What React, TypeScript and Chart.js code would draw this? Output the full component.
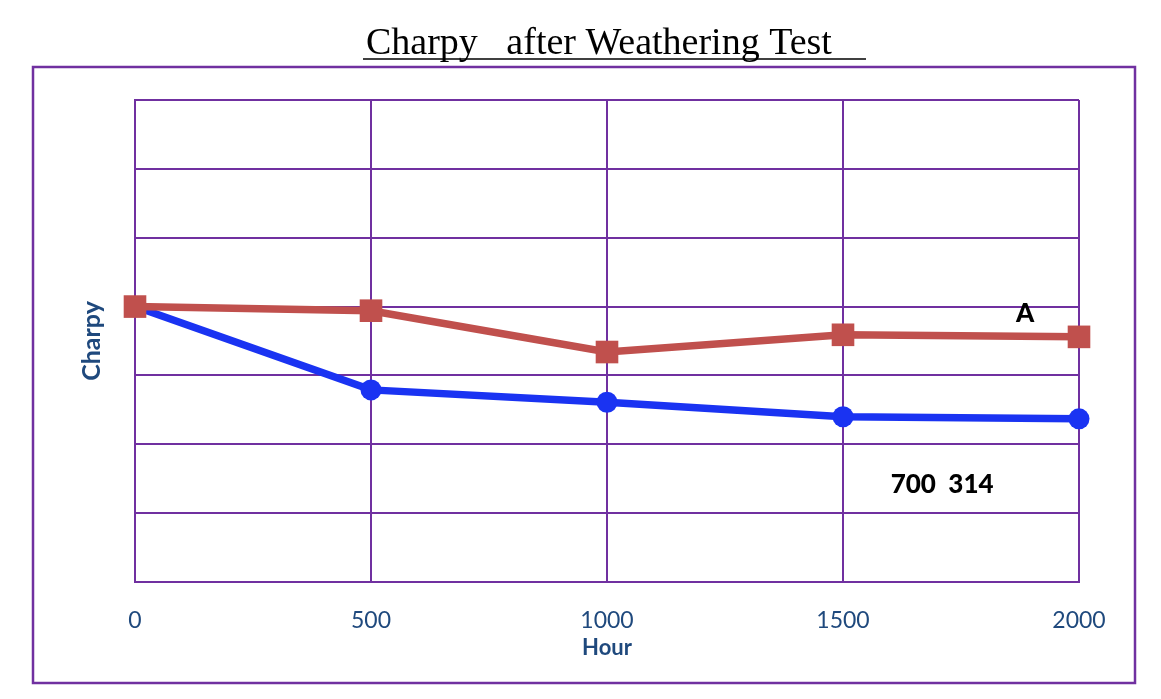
import React, { useEffect, useRef } from "react";
import { Chart, registerables } from "chart.js";

Chart.register(...registerables);

const hours = [0, 500, 1000, 1500, 2000];
const seriesA = [4.0, 3.94, 3.34, 3.59, 3.56];
const seriesB = [4.0, 2.79, 2.61, 2.4, 2.37];
const titleText = "Charpy   after Weathering Test";
const xTitle = "Hour";
const yTitle = "Charpy";
const noteA = { text: "A", x: 1886, y: 3.9 };
const noteB = { text: "700  314", x: 1710, y: 1.42 };

const PURPLE = "#7030A0";
const RED = "#C0504D";
const BLUE = "#1a33f2";
const LABEL = "#1F497D";
const SANS = "Lato, 'Open Sans', sans-serif";

const framePlugin = {
  id: "frame",
  beforeDraw(chart: any) {
    const ctx = chart.ctx;
    ctx.save();
    ctx.fillStyle = "#fff";
    ctx.fillRect(0, 0, chart.width, chart.height);
    ctx.strokeStyle = PURPLE;
    ctx.lineWidth = 2.5;
    ctx.strokeRect(33, 67, 1102, 616);
    ctx.fillStyle = "#000";
    ctx.font = "38px 'Liberation Serif', 'Times New Roman', serif";
    ctx.textBaseline = "alphabetic";
    ctx.textAlign = "left";
    ctx.fillText(titleText, 366, 54);
    ctx.strokeStyle = "#000";
    ctx.lineWidth = 1.5;
    ctx.beginPath();
    ctx.moveTo(363, 59);
    ctx.lineTo(866, 59);
    ctx.stroke();
    ctx.restore();
  },
  afterDatasetsDraw(chart: any) {
    const ctx = chart.ctx;
    const xs = chart.scales.x;
    const ys = chart.scales.y;
    ctx.save();
    ctx.fillStyle = "#000";
    ctx.font = `900 26px ${SANS}`;
    ctx.textAlign = "center";
    ctx.textBaseline = "middle";
    [noteA, noteB].forEach((n) => {
      ctx.fillText(n.text, xs.getPixelForValue(n.x), ys.getPixelForValue(n.y));
    });
    ctx.restore();
  },
};

export default function App() {
  const ref = useRef<HTMLCanvasElement>(null);
  useEffect(() => {
    if (!ref.current) return;
    const chart = new Chart(ref.current, {
      type: "line",
      data: {
        datasets: [
          {
            label: "A",
            data: hours.map((h, i) => ({ x: h, y: seriesA[i] })),
            borderColor: RED,
            backgroundColor: RED,
            borderWidth: 7.5,
            pointStyle: "rect",
            pointRadius: 16,
            pointBorderWidth: 0,
            clip: false,
            order: 1,
          },
          {
            label: "B",
            data: hours.map((h, i) => ({ x: h, y: seriesB[i] })),
            borderColor: BLUE,
            backgroundColor: BLUE,
            borderWidth: 7.5,
            pointStyle: "circle",
            pointRadius: 10.5,
            pointBorderWidth: 0,
            clip: false,
            order: 2,
          },
        ],
      },
      options: {
        animation: false,
        responsive: false,
        layout: { padding: { top: 100, right: 82, left: 0, bottom: 0 } },
        plugins: { legend: { display: false }, tooltip: { enabled: false }, title: { display: false } },
        scales: {
          x: {
            type: "linear",
            min: 0,
            max: 2000,
            afterFit: (s: any) => { s.height = 117; },
            ticks: {
              stepSize: 500,
              color: LABEL,
              font: { family: SANS, size: 23 },
              padding: 25,
              callback: (v: any) => String(v),
            },
            grid: { color: PURPLE, lineWidth: 2, drawTicks: false },
            border: { color: PURPLE, width: 2 },
            title: { display: true, text: xTitle, color: LABEL, font: { family: SANS, size: 22, weight: "bold" }, padding: { bottom: 38 } },
          },
          y: {
            min: 0,
            max: 7,
            afterFit: (s: any) => { s.width = 135; },
            ticks: { stepSize: 1, display: false },
            grid: { color: PURPLE, lineWidth: 2, drawTicks: false },
            border: { color: PURPLE, width: 2 },
            title: { display: true, text: yTitle, color: LABEL, font: { family: SANS, size: 25, weight: "bold" }, padding: { top: 77 } },
          },
        },
      },
      plugins: [framePlugin],
    } as any);
    return () => chart.destroy();
  }, []);
  return (
    <div style={{ position: "absolute", left: 0, top: 0, width: 1161, height: 699 }}>
      <canvas ref={ref} width={1161} height={699} style={{ width: 1161, height: 699 }} />
    </div>
  );
}
